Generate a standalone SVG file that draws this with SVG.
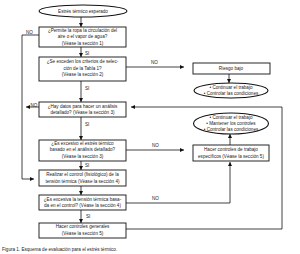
<svg xmlns="http://www.w3.org/2000/svg" width="300" height="254" viewBox="0 0 300 254">
<defs>
<marker id="ah" viewBox="0 0 10 10" refX="10" refY="5" markerWidth="4" markerHeight="4" orient="auto" markerUnits="userSpaceOnUse">
<path d="M0,0 L10,5 L0,10 z" fill="#111"/>
</marker>
<style>
.box{fill:#fff;stroke:#111;stroke-width:0.9}
.ell{fill:#fff;stroke:#111;stroke-width:1.1}
.t{font-family:"Liberation Sans",Arial,sans-serif;font-size:4.6px;fill:#222;text-anchor:middle}
.l{font-family:"Liberation Sans",Arial,sans-serif;font-size:4.6px;fill:#222}
.c{fill:none;stroke:#111;stroke-width:0.8;marker-end:url(#ah)}
</style>
</defs>
<rect width="300" height="254" fill="#fff"/>
<g id="connectors">
<path class="c" d="M81,17 V27"/>
<path class="c" d="M81,47 V57"/>
<path class="c" d="M81,81 V102"/>
<path class="c" d="M81,117 V140"/>
<path class="c" d="M81,161 V170"/>
<path class="c" d="M81,186 V195"/>
<path class="c" d="M81,210 V223"/>
<path class="c" d="M126,67 H184"/>
<path class="c" d="M229,74 V83"/>
<path class="c" d="M126,150 H184"/>
<path class="c" d="M230,145 V134"/>
<path class="c" d="M126,203 H230 V162"/>
<path class="c" d="M126,229 H282 V107 H131"/>
<path class="c" d="M39,35 H22 V179 H34"/>
<path class="c" d="M39,107 H26"/>
<text class="l" x="85" y="54.5">SI</text>
<text class="l" x="85" y="90">SI</text>
<text class="l" x="85" y="126">SI</text>
<text class="l" x="85" y="167">SI</text>
<text class="l" x="86" y="218">SI</text>
<text class="l" x="26" y="33.5">NO</text>
<text class="l" x="30.5" y="106.5">NO</text>
<text class="l" x="151" y="64">NO</text>
<text class="l" x="152" y="147">NO</text>
<text class="l" x="152" y="200">NO</text>
</g>
<g id="start">
<ellipse class="ell" cx="83" cy="11" rx="44" ry="6"/>
<text class="t" x="83" y="12.6">Estrés térmico esperado</text>
</g>
<g id="q1">
<rect class="box" x="39" y="27" width="87" height="20"/>
<text class="t" x="82.5" y="32.2">¿Permite la ropa la circulación del</text>
<text class="t" x="82.5" y="38.4">aire o el vapor de agua?</text>
<text class="t" x="82.5" y="44.6">(Véase la sección 1)</text>
</g>
<g id="q2">
<rect class="box" x="39" y="57" width="87" height="24"/>
<text class="t" x="82.5" y="63.4">¿Se exceden los criterios de selec-</text>
<text class="t" x="82.5" y="69.6">ción de la Tabla 1?</text>
<text class="t" x="82.5" y="75.8">(Véase la sección 2)</text>
</g>
<g id="riesgo">
<rect class="box" x="193" y="63" width="77" height="11"/>
<text class="t" x="231" y="70">Riesgo bajo</text>
</g>
<g id="end1">
<ellipse class="ell" cx="231" cy="90.5" rx="37" ry="7.5"/>
<text class="t" x="231" y="88.6">• Continuar el trabajo</text>
<text class="t" x="231" y="94.8">• Controlar las condiciones</text>
</g>
<g id="q3">
<rect class="box" x="39" y="102" width="87" height="15"/>
<text class="t" x="82.5" y="107.6">¿Hay datos para hacer un análisis</text>
<text class="t" x="82.5" y="113.8">detallado? (Véase la sección 3)</text>
</g>
<g id="end2">
<ellipse class="ell" cx="231" cy="123.5" rx="37.5" ry="10.5"/>
<text class="t" x="231" y="119">• Continuar el trabajo</text>
<text class="t" x="231" y="125">• Mantener los controles</text>
<text class="t" x="231" y="131">• Controlar las condiciones</text>
</g>
<g id="q4">
<rect class="box" x="39" y="140" width="87" height="21"/>
<text class="t" x="82.5" y="145.2">¿Es excesivo el estrés térmico</text>
<text class="t" x="82.5" y="151.4">basado en el análisis detallado?</text>
<text class="t" x="82.5" y="157.6">(Véase la sección 3)</text>
</g>
<g id="especificos">
<rect class="box" x="193" y="145" width="76" height="16"/>
<text class="t" x="231" y="151.4">Hacer controles de trabajo</text>
<text class="t" x="231" y="157.6">específicos (Véase la sección 5)</text>
</g>
<g id="control">
<rect class="box" x="39" y="170" width="87" height="16"/>
<text class="t" x="82.5" y="176.4">Realizar el control (fisiológico) de la</text>
<text class="t" x="82.5" y="182.6">tensión térmica (Véase la sección 4)</text>
</g>
<g id="q5">
<rect class="box" x="39" y="195" width="87" height="15"/>
<text class="t" x="82.5" y="201.2">¿Es excesiva la tensión térmica basa-</text>
<text class="t" x="82.5" y="207.4">da en el control? (Véase la sección 4)</text>
</g>
<g id="generales">
<rect class="box" x="39" y="223" width="87" height="15"/>
<text class="t" x="82.5" y="228.4">Hacer controles generales</text>
<text class="t" x="82.5" y="234.6">(Véase la sección 5)</text>
</g>
<g id="caption">
<text class="l" x="2" y="250.5">Figura 1. Esquema de evaluación para el estrés térmico.</text>
</g>
</svg>
